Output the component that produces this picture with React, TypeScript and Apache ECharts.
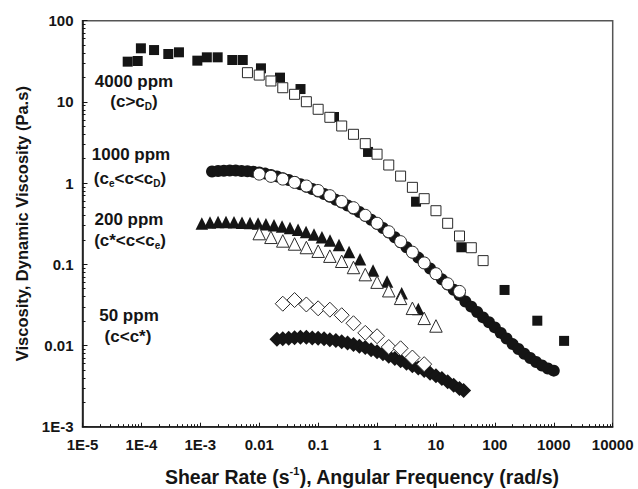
import React, { useEffect, useRef } from 'react';
import * as echarts from 'echarts';

// ---- Axis ticks / labels ----
const X_TICKS = [1e-5, 1e-4, 1e-3, 0.01, 0.1, 1, 10, 100, 1000, 10000];
const X_LABELS = ['1E-5', '1E-4', '1E-3', '0.01', '0.1', '1', '10', '100', '1000', '10000'];
const Y_TICKS = [1e-3, 0.01, 0.1, 1, 10, 100];
const Y_LABELS = ['1E-3', '0.01', '0.1', '1', '10', '100'];
const MINOR_STEPS = [2, 3, 4, 5, 6, 7, 8, 9];

// ---- 4000 ppm (c>cD) ----
const PPM4000_STEADY_X = [5.85e-5, 8.65e-5, 9.8e-5, 1.64e-4, 2.86e-4, 4.34e-4, 8.9e-4, 1.29e-3, 1.97e-3, 3.49e-3, 5.25e-3, 0.0107, 0.0225, 0.0502, 0.186, 0.703, 4.59, 27, 146, 525, 1496];
const PPM4000_STEADY_Y = [31.3, 31.9, 45.7, 43.5, 38.9, 40.8, 32.2, 35.4, 35.4, 32.8, 32.8, 25.9, 19.9, 14.4, 6.52, 2.42, 0.59, 0.162, 0.0483, 0.0202, 0.0114];
const PPM4000_OSC_X = [0.00631, 0.01, 0.0158, 0.0251, 0.0398, 0.0631, 0.1, 0.158, 0.251, 0.398, 0.631, 1, 1.58, 2.51, 3.98, 6.31, 10, 15.8, 25.1, 39.8, 63.1];
const PPM4000_OSC_Y = [22.9, 21.4, 18.1, 14.95, 12.4, 10.05, 8.11, 6.46, 5.05, 3.99, 3.06, 2.27, 1.67, 1.22, 0.887, 0.643, 0.457, 0.32, 0.223, 0.16, 0.111];

// ---- 1000 ppm (ce<c<cD) ----
const PPM1000_STEADY_X = [0.00158, 0.002, 0.00251, 0.00316, 0.00398, 0.00501, 0.00631, 0.00794, 0.01, 0.0126, 0.0158, 0.02, 0.0251, 0.0316, 0.0398, 0.0501, 0.0631, 0.0794, 0.1, 0.126, 0.158, 0.2, 0.251, 0.316, 0.398, 0.501, 0.631, 0.794, 1, 1.26, 1.58, 2, 2.51, 3.16, 3.98, 5.01, 6.31, 7.94, 10, 12.6, 15.8, 20, 25.1, 31.6, 39.8, 50.1, 63.1, 79.4, 100, 126, 158, 200, 251, 316, 398, 501, 631, 794, 1000];
const PPM1000_STEADY_Y = [1.39, 1.41, 1.42, 1.43, 1.43, 1.41, 1.4, 1.38, 1.35, 1.31, 1.26, 1.21, 1.15, 1.09, 1.03, 0.966, 0.903, 0.846, 0.789, 0.734, 0.678, 0.622, 0.577, 0.53, 0.484, 0.441, 0.395, 0.354, 0.316, 0.28, 0.246, 0.215, 0.187, 0.162, 0.14, 0.121, 0.104, 0.0887, 0.076, 0.0653, 0.0564, 0.0485, 0.0419, 0.0348, 0.0301, 0.0259, 0.0222, 0.0193, 0.0167, 0.0143, 0.0122, 0.0104, 0.00906, 0.00791, 0.00702, 0.00627, 0.00567, 0.00521, 0.0049];
const PPM1000_OSC_X = [0.01, 0.0158, 0.0251, 0.0398, 0.0631, 0.1, 0.158, 0.251, 0.398, 0.631, 1, 1.58, 2.51, 3.98, 6.31, 10, 15.8, 25.1];
const PPM1000_OSC_Y = [1.29, 1.21, 1.12, 1.02, 0.921, 0.811, 0.7, 0.593, 0.498, 0.401, 0.32, 0.252, 0.19, 0.141, 0.104, 0.0766, 0.0577, 0.0463];

// ---- 200 ppm (c*<c<ce) ----
const PPM200_STEADY_X = [1.06e-3, 1.46e-3, 2.0e-3, 2.73e-3, 3.73e-3, 5.1e-3, 6.98e-3, 9.55e-3, 0.013, 0.0178, 0.0244, 0.0333, 0.0456, 0.0624, 0.0851, 0.116, 0.159, 0.226, 0.335, 0.514, 0.855, 1.48, 2.62, 5.02];
const PPM200_STEADY_Y = [0.318, 0.327, 0.332, 0.332, 0.329, 0.325, 0.323, 0.318, 0.311, 0.302, 0.292, 0.28, 0.266, 0.25, 0.233, 0.215, 0.196, 0.173, 0.142, 0.115, 0.0839, 0.0614, 0.044, 0.0282];
const PPM200_OSC_X = [0.01, 0.0158, 0.0251, 0.0398, 0.0631, 0.1, 0.158, 0.251, 0.398, 0.631, 1, 1.58, 2.51, 3.98, 6.31, 10];
const PPM200_OSC_Y = [0.239, 0.215, 0.194, 0.178, 0.161, 0.145, 0.126, 0.109, 0.0914, 0.0747, 0.0603, 0.0473, 0.0381, 0.0287, 0.0216, 0.0174];

// ---- 50 ppm (c<c*) ----
const PPM50_STEADY_X = [0.02, 0.0251, 0.0316, 0.0398, 0.0501, 0.0631, 0.0794, 0.1, 0.126, 0.158, 0.2, 0.251, 0.316, 0.398, 0.501, 0.631, 0.794, 1, 1.26, 1.58, 2, 2.51, 3.16, 3.98, 5.01, 6.31, 7.94, 10, 12.6, 15.8, 20, 25.1, 29.5];
const PPM50_STEADY_Y = [0.0119, 0.0121, 0.0123, 0.0125, 0.0126, 0.0126, 0.0124, 0.0123, 0.0121, 0.0118, 0.0115, 0.0111, 0.0107, 0.0103, 0.0098, 0.00942, 0.00887, 0.00836, 0.00791, 0.00738, 0.00692, 0.00648, 0.00605, 0.00565, 0.00528, 0.00491, 0.00456, 0.00424, 0.00393, 0.00357, 0.00324, 0.00295, 0.0028];
const PPM50_OSC_X = [0.0251, 0.0398, 0.0631, 0.1, 0.158, 0.251, 0.398, 0.631, 1, 1.58, 2.51, 3.98, 6.31];
const PPM50_OSC_Y = [0.0327, 0.0363, 0.032, 0.0287, 0.0276, 0.0236, 0.0188, 0.0143, 0.013, 0.00959, 0.00924, 0.00711, 0.00589];

const FONT = '"Liberation Sans", Arial, Helvetica, sans-serif';
const INK = '#151515';

const pairs = (xs: number[], ys: number[]) => xs.map((x, i) => [x, ys[i]]);
const minorTicks = (majors: number[]) => {
  const out: number[] = [];
  majors.slice(0, -1).forEach((m) => MINOR_STEPS.forEach((s) => out.push(m * s)));
  return out;
};
const labelFor = (ticks: number[], labels: string[]) => (v: number) => {
  const lv = Math.log10(v);
  let best = 0;
  ticks.forEach((t, i) => {
    if (Math.abs(Math.log10(t) - lv) < Math.abs(Math.log10(ticks[best]) - lv)) best = i;
  });
  return labels[best];
};

const filled = (name: string, xs: number[], ys: number[], symbol: string, size: number) => ({
  type: 'scatter', name, data: pairs(xs, ys), symbol, symbolSize: size,
  itemStyle: { color: INK, opacity: 1 }, silent: true,
});
const open = (name: string, xs: number[], ys: number[], symbol: string, size: number) => ({
  type: 'scatter', name, data: pairs(xs, ys), symbol, symbolSize: size,
  itemStyle: { color: '#ffffff', borderColor: '#2a2a2a', borderWidth: 1, opacity: 1 }, silent: true,
});

const subStyle = { fontSize: 10, fontWeight: 'bold', fontFamily: FONT, fill: INK, color: INK, lineHeight: 10, verticalAlign: 'bottom' };

const ANNOTATIONS = [
  { text: '4000 ppm', x: 134, y: 81 },
  { text: '(c>c{sub|D})', x: 134, y: 101 },
  { text: '1000 ppm', x: 131, y: 154.5 },
  { text: '(c{sub|e}<c<c{sub|D})', x: 130, y: 178 },
  { text: '200 ppm', x: 129, y: 219 },
  { text: '(c*<c<c{sub|e})', x: 130, y: 240.5 },
  { text: '50 ppm', x: 129, y: 315.5 },
  { text: '(c<c*)', x: 128, y: 336.5 },
];

export default function App() {
  const ref = useRef<HTMLDivElement>(null);
  useEffect(() => {
    if (!ref.current) return;
    const chart = echarts.init(ref.current, null, { renderer: 'svg' });
    const baseAxis = {
      type: 'log', logBase: 10, splitLine: { show: false }, minorTick: { show: false },
    };
    chart.setOption({
      animation: false,
      backgroundColor: '#ffffff',
      grid: {
        left: 82.5, right: 25.3, top: 20.7, bottom: 62.3,
        show: true, borderColor: '#555', borderWidth: 1.5, backgroundColor: 'transparent',
        containLabel: false, outerBoundsMode: 'none',
      },
      xAxis: [
        {
          ...baseAxis, min: 1e-5, max: 1e4, position: 'bottom',
          axisLine: { show: true, onZero: false, lineStyle: { color: INK, width: 1.5 } },
          axisTick: { show: true, inside: true, length: 4, lineStyle: { color: INK, width: 1 }, customValues: X_TICKS },
          axisLabel: {
            show: true, margin: 10, customValues: X_TICKS, formatter: labelFor(X_TICKS, X_LABELS),
            fontSize: 15, fontWeight: 'bold', fontFamily: FONT, color: INK,
          },
          name: 'Shear Rate (s{sup|-1}), Angular Frequency (rad/s)',
          nameLocation: 'middle', nameGap: 39,
          nameTextStyle: {
            fontSize: 19.5, fontWeight: 'bold', fontFamily: FONT, color: INK, lineHeight: 22,
            padding: [0, 0, 0, 29],
            rich: { sup: { fontSize: 11, fontWeight: 'bold', fontFamily: FONT, color: INK, lineHeight: 12, verticalAlign: 'top' } },
          },
        },
        {
          ...baseAxis, min: 1e-5, max: 1e4, position: 'bottom', gridIndex: 0,
          axisLine: { show: false, onZero: false },
          axisTick: { show: true, inside: true, length: 2.5, lineStyle: { color: INK, width: 1 }, customValues: minorTicks(X_TICKS) },
          axisLabel: { show: false },
        },
      ],
      yAxis: [
        {
          ...baseAxis, min: 1e-3, max: 100, position: 'left',
          axisLine: { show: true, onZero: false, lineStyle: { color: INK, width: 1.5 } },
          axisTick: { show: true, inside: true, length: 5, lineStyle: { color: INK, width: 1 }, customValues: Y_TICKS },
          axisLabel: {
            show: true, margin: 9, customValues: Y_TICKS, formatter: labelFor(Y_TICKS, Y_LABELS),
            fontSize: 15, fontWeight: 'bold', fontFamily: FONT, color: INK,
          },
          name: 'Viscosity, Dynamic Viscosity (Pa.s)',
          nameLocation: 'middle', nameGap: 33, nameRotate: 90,
          nameTextStyle: { fontSize: 16.5, fontWeight: 'bold', fontFamily: FONT, color: INK },
        },
        {
          ...baseAxis, min: 1e-3, max: 100, position: 'left', offset: 0, gridIndex: 0,
          axisLine: { show: false, onZero: false },
          axisTick: { show: true, inside: true, length: 3, lineStyle: { color: INK, width: 1 }, customValues: minorTicks(Y_TICKS) },
          axisLabel: { show: false },
        },
      ],
      series: [
        filled('4000 ppm steady', PPM4000_STEADY_X, PPM4000_STEADY_Y, 'rect', 10),
        filled('1000 ppm steady', PPM1000_STEADY_X, PPM1000_STEADY_Y, 'circle', 12),
        filled('200 ppm steady', PPM200_STEADY_X, PPM200_STEADY_Y, 'triangle', 12.5),
        filled('50 ppm steady', PPM50_STEADY_X, PPM50_STEADY_Y, 'diamond', 15),
        open('4000 ppm oscillatory', PPM4000_OSC_X, PPM4000_OSC_Y, 'rect', 10),
        open('1000 ppm oscillatory', PPM1000_OSC_X, PPM1000_OSC_Y, 'circle', 12),
        open('200 ppm oscillatory', PPM200_OSC_X, PPM200_OSC_Y, 'triangle', 12.5),
        open('50 ppm oscillatory', PPM50_OSC_X, PPM50_OSC_Y, 'diamond', 15),
      ],
      graphic: ANNOTATIONS.map((a) => ({
        type: 'text', x: a.x, y: a.y, silent: true, z: 10,
        style: {
          text: a.text, fontSize: 17, fontWeight: 'bold', fontFamily: FONT, fill: INK, lineHeight: 20,
          align: 'center', verticalAlign: 'middle', textAlign: 'center', textVerticalAlign: 'middle',
          rich: { sub: subStyle },
        },
      })),
    });
    return () => chart.dispose();
  }, []);
  return <div ref={ref} style={{ position: 'absolute', left: 0, top: 0, width: 638, height: 489 }} />;
}
